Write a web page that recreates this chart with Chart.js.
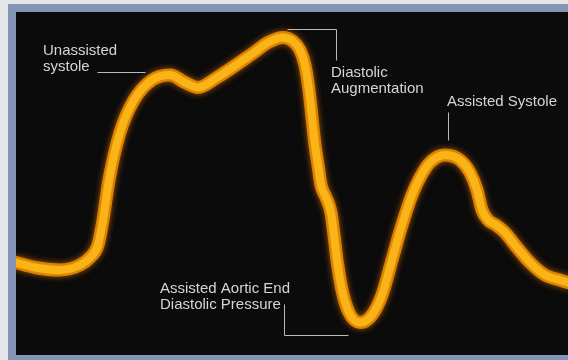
<!DOCTYPE html>
<html>
<head>
<meta charset="utf-8">
<script src="https://cdn.jsdelivr.net/npm/chart.js@4.4.1/dist/chart.umd.min.js"></script>
<style>
  html, body { margin: 0; padding: 0; background: #e6e8ec; }
  #wrap { width: 568px; height: 360px; }
</style>
</head>
<body>
<div id="wrap"><canvas id="grafico"></canvas></div>
<script>
// time (ms) and pressure (mmHg)
const tiempos = [0, 38, 88, 128, 148, 164, 174, 186, 208, 236, 272, 308, 338, 364, 402, 476, 504, 534, 554,
    568, 578, 586, 592, 598, 604, 610, 620, 630, 636, 642, 652, 666, 688, 712, 732, 752, 772, 792, 808, 828,
    858, 888, 908, 922, 932, 944, 960, 978, 998, 1028, 1058, 1088, 1104];
const presion = [57, 55, 54, 56, 59, 64, 74, 90, 109, 122, 130, 132, 129, 127, 131, 141, 145, 147, 145.5,
    142, 136, 126, 115, 104, 96, 88, 83, 77, 68, 58, 46, 37, 33, 36, 44, 58, 72, 84, 91, 97,
    100, 98, 93, 86, 78, 74, 72, 69, 64, 57, 52, 50, 49];

// labels: text lines, anchor (t, p) and leader line in the same units
const etiquetas = [
    { lines: ['Unassisted', 'systole'], t: 54, p: 140, leader: [[162, 133.2], [258, 133.2]] },
    { lines: ['Diastolic', 'Augmentation'], t: 630, p: 131.2, leader: [[542, 150.4], [640, 150.4], [640, 138]] },
    { lines: ['Assisted Systole'], t: 862, p: 119.6, leader: [[864, 117.2], [864, 106]] },
    { lines: ['Assisted Aortic End', 'Diastolic Pressure'], t: 288, p: 44.8, leader: [[536, 40.4], [536, 28], [664, 28]] }
];

const puntos = tiempos.map((t, i) => ({ x: t, y: presion[i] }));

const marco = {
    id: 'marco',
    beforeDraw(chart) {
        const ctx = chart.ctx;
        const a = chart.chartArea;
        ctx.save();
        ctx.fillStyle = '#e4e6ea';
        ctx.fillRect(0, 0, chart.width, chart.height);
        ctx.fillStyle = '#8494b4';
        ctx.fillRect(8, 4, chart.width - 8, chart.height - 4);
        ctx.fillStyle = '#0b0b0b';
        ctx.fillRect(a.left, a.top, a.right - a.left, a.bottom - a.top);
        ctx.restore();
    },
    beforeDatasetDraw(chart, args) {
        const ctx = chart.ctx;
        ctx.save();
        // dataset 1 is the wide dark halo, 0 the bright core
        ctx.shadowColor = args.index === 1 ? 'rgba(230,120,0,0.7)' : 'rgba(255,180,30,0.4)';
        ctx.shadowBlur = args.index === 1 ? 6 : 2;
    },
    afterDatasetDraw(chart) {
        chart.ctx.restore();
    },
    afterDatasetsDraw(chart) {
        const ctx = chart.ctx;
        const xs = chart.scales.x;
        const ys = chart.scales.y;
        ctx.save();
        ctx.fillStyle = '#d3d5d6';
        ctx.strokeStyle = '#b8babc';
        ctx.lineWidth = 1;
        ctx.font = '15px "Liberation Sans", Arial, sans-serif';
        ctx.textBaseline = 'alphabetic';
        etiquetas.forEach(e => {
            const x = xs.getPixelForValue(e.t);
            const y = ys.getPixelForValue(e.p);
            e.lines.forEach((l, i) => ctx.fillText(l, x, y + i * 16));
            ctx.beginPath();
            e.leader.forEach((pt, i) => {
                const px = Math.round(xs.getPixelForValue(pt[0])) + 0.5;
                const py = Math.round(ys.getPixelForValue(pt[1])) + 0.5;
                if (i === 0) ctx.moveTo(px, py); else ctx.lineTo(px, py);
            });
            ctx.stroke();
        });
        ctx.restore();
    }
};

new Chart(document.getElementById('grafico').getContext('2d'), {
    type: 'line',
    data: {
        datasets: [{
            data: puntos,
            borderColor: '#fbb417',
            borderWidth: 8,
            pointRadius: 0,
            order: 0,
            cubicInterpolationMode: 'monotone',
            borderCapStyle: 'round',
            borderJoinStyle: 'round'
        }, {
            data: puntos,
            borderColor: '#d98200',
            borderWidth: 13,
            pointRadius: 0,
            order: 1,
            cubicInterpolationMode: 'monotone',
            borderCapStyle: 'round',
            borderJoinStyle: 'round'
        }]
    },
    options: {
        responsive: true,
        maintainAspectRatio: false,
        animation: false,
        layout: { padding: { left: 16, top: 12, right: 0, bottom: 5 } },
        plugins: {
            legend: { display: false },
            tooltip: { enabled: false }
        },
        scales: {
            x: { type: 'linear', min: 0, max: 1104, display: false },
            y: { min: 20, max: 157.2, display: false }
        }
    },
    plugins: [marco]
});
</script>
</body>
</html>
